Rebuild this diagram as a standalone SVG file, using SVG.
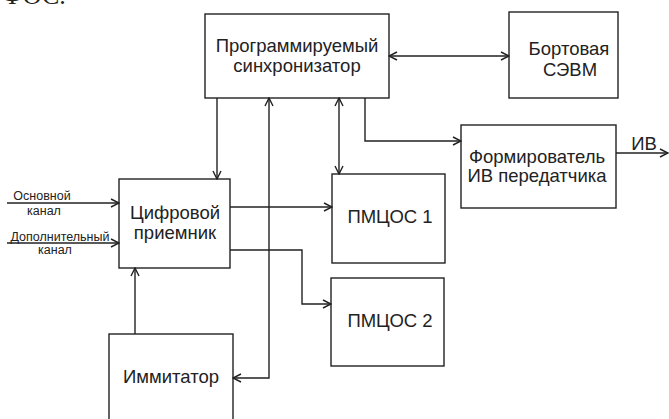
<svg xmlns="http://www.w3.org/2000/svg" width="669" height="419" viewBox="0 0 669 419">
<style>
.box{fill:#fff;stroke:#222;stroke-width:1.4}
.t{font-family:"Liberation Sans",Arial,sans-serif;font-size:18.5px;fill:#222;text-anchor:middle}
.s{font-family:"Liberation Sans",Arial,sans-serif;font-size:12.5px;fill:#222;text-anchor:middle}
.c path{fill:none;stroke:#222;stroke-width:1.4}
</style>
<defs>
<marker id="a" viewBox="0 0 10 10" refX="9" refY="5" markerWidth="10" markerHeight="10" markerUnits="userSpaceOnUse" orient="auto-start-reverse">
<path d="M1,1 L9,5 L1,9" fill="none" stroke="#222" stroke-width="1.4"/>
</marker>
</defs>
<rect width="669" height="419" fill="#fff"/>
<text x="2" y="4" font-family="Liberation Serif,serif" font-size="26" fill="#222">ФОС.</text>
<g id="sync"><rect class="box" x="205" y="14" width="184" height="84"/>
<text class="t" x="297" y="52">Программируемый</text><text class="t" x="297" y="72">синхронизатор</text></g>
<g id="sevm"><rect class="box" x="509" y="12" width="109" height="86"/>
<text class="t" x="569" y="55">Бортовая</text><text class="t" x="570" y="76">СЭВМ</text></g>
<g id="form"><rect class="box" x="461" y="125" width="155" height="83"/>
<text class="t" x="537" y="163">Формирователь</text><text class="t" x="537" y="182">ИВ передатчика</text></g>
<g id="rx"><rect class="box" x="119" y="179" width="111" height="89"/>
<text class="t" x="175" y="219">Цифровой</text><text class="t" x="175" y="239">приемник</text></g>
<g id="p1"><rect class="box" x="332" y="174" width="113" height="89"/>
<text class="t" x="390" y="223">ПМЦОС 1</text></g>
<g id="p2"><rect class="box" x="331" y="278" width="113" height="88"/>
<text class="t" x="390" y="327">ПМЦОС 2</text></g>
<g id="imit"><rect class="box" x="109" y="334" width="124" height="100"/>
<text class="t" x="171" y="383">Иммитатор</text></g>
<g id="labels">
<text class="s" x="42" y="200">Основной</text><text class="s" x="44" y="215">канал</text>
<text class="s" x="60" y="241">Дополнительный</text><text class="s" x="55" y="254">канал</text>
<text class="t" x="644" y="150">ИВ</text>
</g>
<g class="c" id="connectors">
<path d="M389,56 H509" marker-start="url(#a)" marker-end="url(#a)"/>
<path d="M217,98 V179" marker-end="url(#a)"/>
<path d="M233,378 H269 V98" marker-start="url(#a)" marker-end="url(#a)"/>
<path d="M339,98 V174" marker-start="url(#a)" marker-end="url(#a)"/>
<path d="M365,98 V141 H461" marker-end="url(#a)"/>
<path d="M230,207 H332" marker-end="url(#a)"/>
<path d="M230,250 H302 V304 H331" marker-end="url(#a)"/>
<path d="M135,334 V268" marker-end="url(#a)"/>
<path d="M7,203 H119" marker-end="url(#a)"/>
<path d="M7,243 H119" marker-end="url(#a)"/>
<path d="M616,153 H668" marker-end="url(#a)"/>
</g>
</svg>
